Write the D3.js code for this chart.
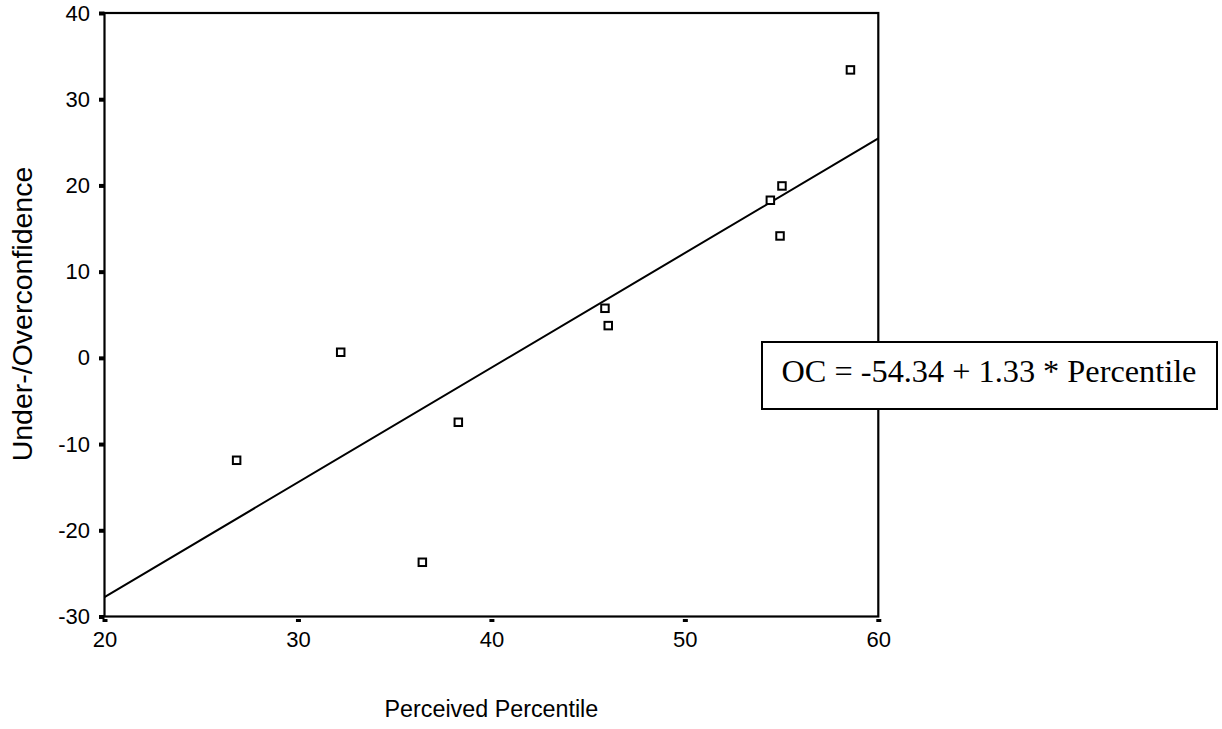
<!DOCTYPE html>
<html>
<head>
<meta charset="utf-8">
<script src="https://cdn.jsdelivr.net/npm/d3@7"></script>
<style>
    body { margin: 0; background: #fff; }
    svg { display: block; }
    .axis text { font-family: Arial, "Liberation Sans", sans-serif; font-size: 22px; fill: #000; }
    .axis .domain { display: none; }
    .title { font-family: Arial, "Liberation Sans", sans-serif; fill: #000; }
    .equation { font-family: "Times New Roman", "Liberation Serif", serif; font-size: 32.3px; fill: #000; }
</style>
</head>
<body>
<svg id="chart"></svg>
<script>
// perceived percentile vs under-/overconfidence, one point per subject group
const percentile = [26.83, 32.21, 36.43, 38.29, 45.87, 46.04, 54.42, 54.92, 55.02, 58.56];
const overconfidence = [-11.88, 0.65, -23.71, -7.47, 5.75, 3.74, 18.28, 14.14, 19.94, 33.40];

const xTicks = [20, 30, 40, 50, 60];
const yTicks = [-30, -20, -10, 0, 10, 20, 30, 40];

// OC = -54.34 + 1.33 * Percentile
const intercept = -54.34;
const slope = 1.33;
const equationLabel = 'OC = -54.34 + 1.33 * Percentile';

const fullWidth = 1222;
const fullHeight = 729;
const margin = {top: 13, right: 343.7, bottom: 112.5, left: 104.5};
const width = fullWidth - margin.left - margin.right;
const height = fullHeight - margin.top - margin.bottom;

const xScale = d3.scaleLinear()
    .domain([20, 60])
    .range([0, width]);

const yScale = d3.scaleLinear()
    .domain([-30, 40])
    .range([height, 0]);

// plain hyphen for negatives, as in the original
const plain = d => String(d);

const svg = d3.select('#chart')
    .attr('width', fullWidth)
    .attr('height', fullHeight);

const g = svg.append('g')
    .attr('transform', `translate(${margin.left}, ${margin.top})`);

// little square tick marks, like the SPSS output
const xAxis = d3.axisBottom(xScale)
    .tickValues(xTicks)
    .tickFormat(plain)
    .tickSize(6)
    .tickPadding(8.5);

const yAxis = d3.axisLeft(yScale)
    .tickValues(yTicks)
    .tickFormat(plain)
    .tickSize(5)
    .tickPadding(9.5);

g.append('g').attr('class', 'axis axis--x')
    .attr('transform', `translate(0, ${height})`)
    .call(xAxis)
    .call(a => a.selectAll('.tick line')
        .attr('y1', 2.5)
        .attr('y2', 5.5)
        .attr('stroke', '#000')
        .attr('stroke-width', 5));

g.append('g').attr('class', 'axis axis--y')
    .call(yAxis)
    .call(a => a.selectAll('.tick line')
        .attr('x1', -5.5)
        .attr('x2', 0)
        .attr('stroke', '#000')
        .attr('stroke-width', 4));

g.append('rect')
    .attr('class', 'frame')
    .attr('width', width)
    .attr('height', height)
    .attr('fill', 'none')
    .attr('stroke', '#000')
    .attr('stroke-width', 2.2);

const fitLine = d3.line()
    .x(d => xScale(d))
    .y(d => yScale(intercept + slope * d));

g.append('path')
    .datum(xScale.domain())
    .attr('d', fitLine)
    .attr('fill', 'none')
    .attr('stroke', '#000')
    .attr('stroke-width', 2);

const points = percentile.map((p, i) => ({x: p, y: overconfidence[i]}));

g.selectAll('.point').data(points)
    .enter().append('rect')
        .attr('class', 'point')
        .attr('x', d => xScale(d.x) - 3.75)
        .attr('y', d => yScale(d.y) - 3.75)
        .attr('width', 7.5)
        .attr('height', 7.5)
        .attr('fill', '#fff')
        .attr('stroke', '#000')
        .attr('stroke-width', 2);

// equation box, sits on top of the right frame edge
const box = svg.append('g')
    .attr('transform', 'translate(762, 342)');

box.append('rect')
    .attr('width', 455)
    .attr('height', 67)
    .attr('fill', '#fff')
    .attr('stroke', '#000')
    .attr('stroke-width', 2);

box.append('text')
    .attr('class', 'equation')
    .attr('x', 19.5)
    .attr('y', 39.5)
    .text(equationLabel);

svg.append('text')
    .attr('class', 'title title--x')
    .attr('x', margin.left + width / 2)
    .attr('y', 716.5)
    .attr('text-anchor', 'middle')
    .style('font-size', '23.3px')
    .text('Perceived Percentile');

svg.append('text')
    .attr('class', 'title title--y')
    .attr('transform', 'translate(32, 314) rotate(-90)')
    .attr('text-anchor', 'middle')
    .style('font-size', '28.5px')
    .text('Under-/Overconfidence');
</script>
</body>
</html>
